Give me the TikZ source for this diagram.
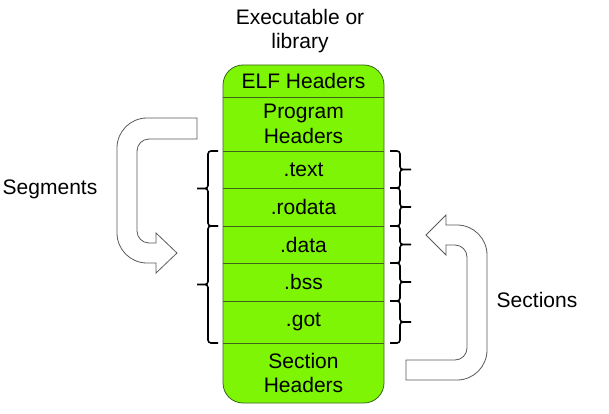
\documentclass[tikz,border=0pt]{standalone}
\usepackage{fontspec}
\setmainfont{Liberation Sans}
\usetikzlibrary{
  positioning,  % Function "of" (e.g. [below=of elf])
  backgrounds,  % Predefined layer named "background"
  calc,         % Calculations $...$
}
\definecolor{elfgreen}{RGB}{125,245,5}
\definecolor{elfline}{RGB}{60,100,30}
\definecolor{bendline}{RGB}{90,90,90}
% Brace on the left, from top of #1 to bottom of #2
\newcommand{\segbrk}[2]{
  \coordinate (bt) at ($(#1.north west)+(-5,0)$);
  \coordinate (bb) at ($(#2.south west)+(-5,0)$);
  \coordinate (bm) at ($(bt)!.5!(bb)+(-21,0)$);
  \draw[brk] (bt) -- ++(-10,0) |- (bm)
             (bb) -- ++(-10,0) |- (bm);
}
% Brace on the right of one part #1
\newcommand{\secbrk}[1]{
  \coordinate (bt) at ($(#1.north east)+(6,0)$);
  \coordinate (bb) at ($(#1.south east)+(6,0)$);
  \coordinate (bm) at ($(bt)!.5!(bb)+(21,0)$);
  \draw[brk] (bt) -- ++(10,0) |- (bm)
             (bb) -- ++(10,0) |- (bm);
}
\tikzset{
  font=\fontsize{21}{24.5}\selectfont,
  part/.style={
    minimum width=161pt,
    inner sep=0pt,
    outer sep=0pt,
    align=center
  },
  elf box/.style={
    fill=elfgreen,
    draw=elfline,
    line width=0.8pt,
    rounded corners=20pt
  },
  part line/.style={
    draw=elfline,
    line width=0.8pt
  },
  brk/.style={
    line width=1.6pt,
    rounded corners=3pt
  },
  bend arrow/.style={
    draw=bendline,
    line width=0.8pt,
    fill=white
  },
  label/.style={
    align=center,
    inner sep=0pt
  }
}
\begin{document}
\begin{tikzpicture}[x=1pt,y=-1pt,node distance=0pt]
\useasboundingbox (0,0) rectangle (609,414);
\node[part,minimum height=32pt,anchor=north] (elf) at (303.5,65) {ELF Headers};
\node[part,minimum height=54pt] (prog)   [below=of elf]    {Program\\Headers};
\node[part,minimum height=37pt] (txt)    [below=of prog]   {.text};
\node[part,minimum height=38pt] (rodata) [below=of txt]    {.rodata};
\node[part,minimum height=37pt] (data)   [below=of rodata] {.data};
\node[part,minimum height=38pt] (bss)    [below=of data]   {.bss};
\node[part,minimum height=42pt] (got)    [below=of bss]    {.got};
\node[part,minimum height=60pt] (shdr)   [below=of got]    {Section\\Headers};
\begin{scope}[on background layer]
\draw[elf box] (elf.north west) rectangle (shdr.south east);
\end{scope}
\path[part line] (prog.north west)   -- (prog.north east)
                 (txt.north west)    -- (txt.north east)
                 (rodata.north west) -- (rodata.north east)
                 (data.north west)   -- (data.north east)
                 (bss.north west)    -- (bss.north east)
                 (got.north west)    -- (got.north east)
                 (shdr.north west)   -- (shdr.north east);
\node[label] (exe)  at (300,31)  {Executable or\\library};
\node[label] (segs) at (50,189)  {Segments};
\node[label] (secs) at (537,300) {Sections};
% Braces
\segbrk{txt}{rodata}
\segbrk{data}{got}
\secbrk{txt}
\secbrk{rodata}
\secbrk{data}
\secbrk{bss}
\secbrk{got}
% Bent arrows
\draw[bend arrow] (197,139) -- (197,118) -- (147,118)
  .. controls (130.4,118) and (117,131.4) .. (117,148) -- (117,233)
  .. controls (117,249.6) and (130.4,263) .. (147,263) -- (156,263)
  -- (156,273) -- (177,253) -- (156,233) -- (156,243) -- (149,243)
  .. controls (142.4,243) and (137,237.6) .. (137,231) -- (137,151)
  .. controls (137,144.4) and (142.4,139) .. (149,139) -- cycle;
\draw[bend arrow] (426,235) -- (446,215) -- (446,225) -- (457,225)
  .. controls (473.6,225) and (487,238.4) .. (487,255) -- (487,350)
  .. controls (487,366.6) and (473.6,380) .. (457,380) -- (406,380)
  -- (406,360) -- (455,360)
  .. controls (461.6,360) and (467,354.6) .. (467,348) -- (467,257)
  .. controls (467,250.4) and (461.6,245) .. (455,245) -- (446,245)
  -- (446,255) -- cycle;
\end{tikzpicture}
\end{document}
